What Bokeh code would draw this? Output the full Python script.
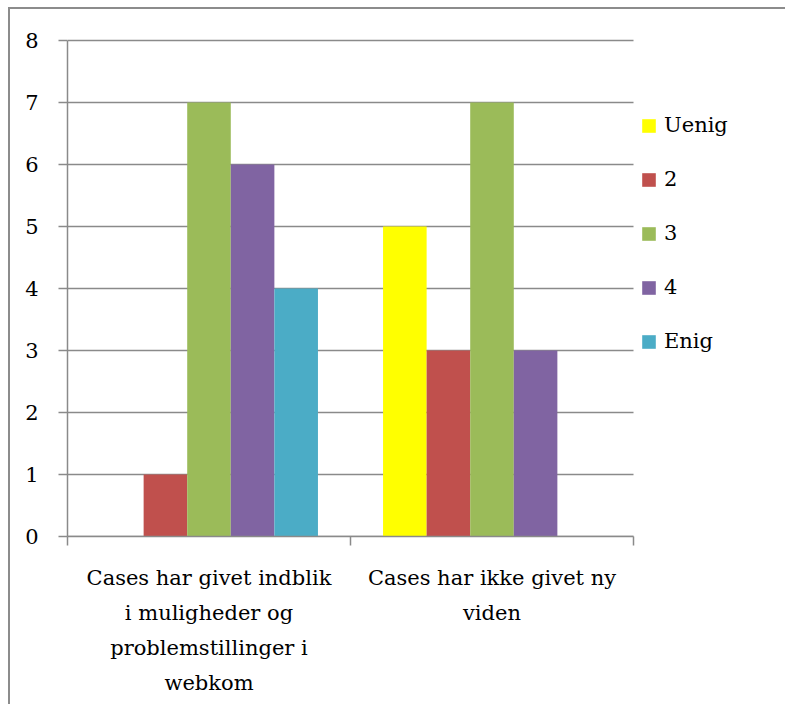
from bokeh.plotting import figure
from bokeh.models import Range1d, FixedTicker, Legend, LegendItem, ColumnDataSource
from bokeh.embed import file_html
from bokeh.resources import INLINE

categories = [
    "Cases har givet indblik\ni muligheder og\nproblemstillinger i\nwebkom",
    "Cases har ikke givet ny\nviden",
]
series = ["Uenig", "2", "3", "4", "Enig"]
values_uenig = [0, 5]
values_2 = [1, 3]
values_3 = [7, 7]
values_4 = [6, 3]
values_enig = [4, 0]
series_values = [values_uenig, values_2, values_3, values_4, values_enig]
colors = ["#FFFF00", "#C0504D", "#9BBB59", "#8064A2", "#4BACC6"]
y_ticks = [0, 1, 2, 3, 4, 5, 6, 7, 8]

FONT = "DejaVu Serif"
FS = "21px"
GRID = "#8a8a8a"

ncat = len(categories)
plot_w = 566          # pixel width of the category area
frame_w = 720         # frame also holds the legend on its right
frame_h = 498
y_top_pad = 2 / 62.0  # keep the top grid line fully visible

p = figure(
    frame_width=frame_w, frame_height=frame_h,
    min_border_left=57, min_border_top=29, min_border_right=0, min_border_bottom=170,
    x_range=Range1d(0, ncat * frame_w / plot_w),
    y_range=Range1d(0, max(y_ticks) + y_top_pad),
    output_backend="svg", toolbar_location=None,
)
p.styles = {
    "box-shadow": "-2px -2px 0px 0px #8c8c8c",
    "margin-left": "10px",
    "margin-top": "9px",
}
p.outline_line_color = None
p.background_fill_color = "white"
p.border_fill_color = "white"

# horizontal grid lines, limited to the category area
p.segment(x0=[0] * len(y_ticks), x1=[ncat] * len(y_ticks), y0=y_ticks, y1=y_ticks,
          line_color=GRID, line_width=1.5)

n = len(series)
bar_w = 0.154
renderers = []
for i, (name, vals, col) in enumerate(zip(series, series_values, colors)):
    xs = [c + 0.5 + (i - (n - 1) / 2) * bar_w for c in range(ncat)]
    src = ColumnDataSource(dict(x=xs, top=vals))
    r = p.vbar(x="x", top="top", bottom=0, width=bar_w, source=src,
               fill_color=col, line_color=None)
    renderers.append(r)

# y axis
p.yaxis.ticker = FixedTicker(ticks=y_ticks)
p.yaxis.bounds = (0, max(y_ticks))
p.yaxis.axis_line_color = GRID
p.yaxis.axis_line_width = 1.5
p.yaxis.major_tick_line_color = GRID
p.yaxis.major_tick_line_width = 1.5
p.yaxis.major_tick_out = 9
p.yaxis.major_tick_in = 0
p.yaxis.minor_tick_line_color = None
p.yaxis.major_label_text_font = FONT
p.yaxis.major_label_text_font_size = FS
p.yaxis.major_label_text_color = "black"
p.yaxis.major_label_standoff = 20

# x axis
centers = [c + 0.5 for c in range(ncat)]
bounds = list(range(ncat + 1))
p.xaxis.ticker = FixedTicker(ticks=centers, minor_ticks=bounds)
p.xaxis.bounds = (0, ncat)
p.xaxis.major_label_overrides = {c: lab for c, lab in zip(centers, categories)}
p.xaxis.axis_line_color = GRID
p.xaxis.axis_line_width = 1.5
p.xaxis.major_tick_line_color = None
p.xaxis.major_tick_out = 0
p.xaxis.major_tick_in = 0
p.xaxis.minor_tick_line_color = GRID
p.xaxis.minor_tick_line_width = 1.5
p.xaxis.minor_tick_out = 9
p.xaxis.minor_tick_in = 0
p.xaxis.major_label_text_font = FONT
p.xaxis.major_label_text_font_size = FS
p.xaxis.major_label_text_color = "black"
p.xaxis.major_label_text_line_height = 1.47
p.xaxis.major_label_standoff = 20

p.xgrid.grid_line_color = None
p.ygrid.grid_line_color = None

legend = Legend(
    items=[LegendItem(label=s, renderers=[r]) for s, r in zip(series, renderers)],
    location=(plot_w + 7, 183),
    glyph_width=17, glyph_height=17,
    label_text_font=FONT, label_text_font_size=FS, label_text_color="black",
    label_standoff=7, spacing=30, padding=0, margin=0,
    border_line_color=None, background_fill_alpha=0,
)
p.add_layout(legend, "center")

open("out.html", "w").write(file_html(p, INLINE))
